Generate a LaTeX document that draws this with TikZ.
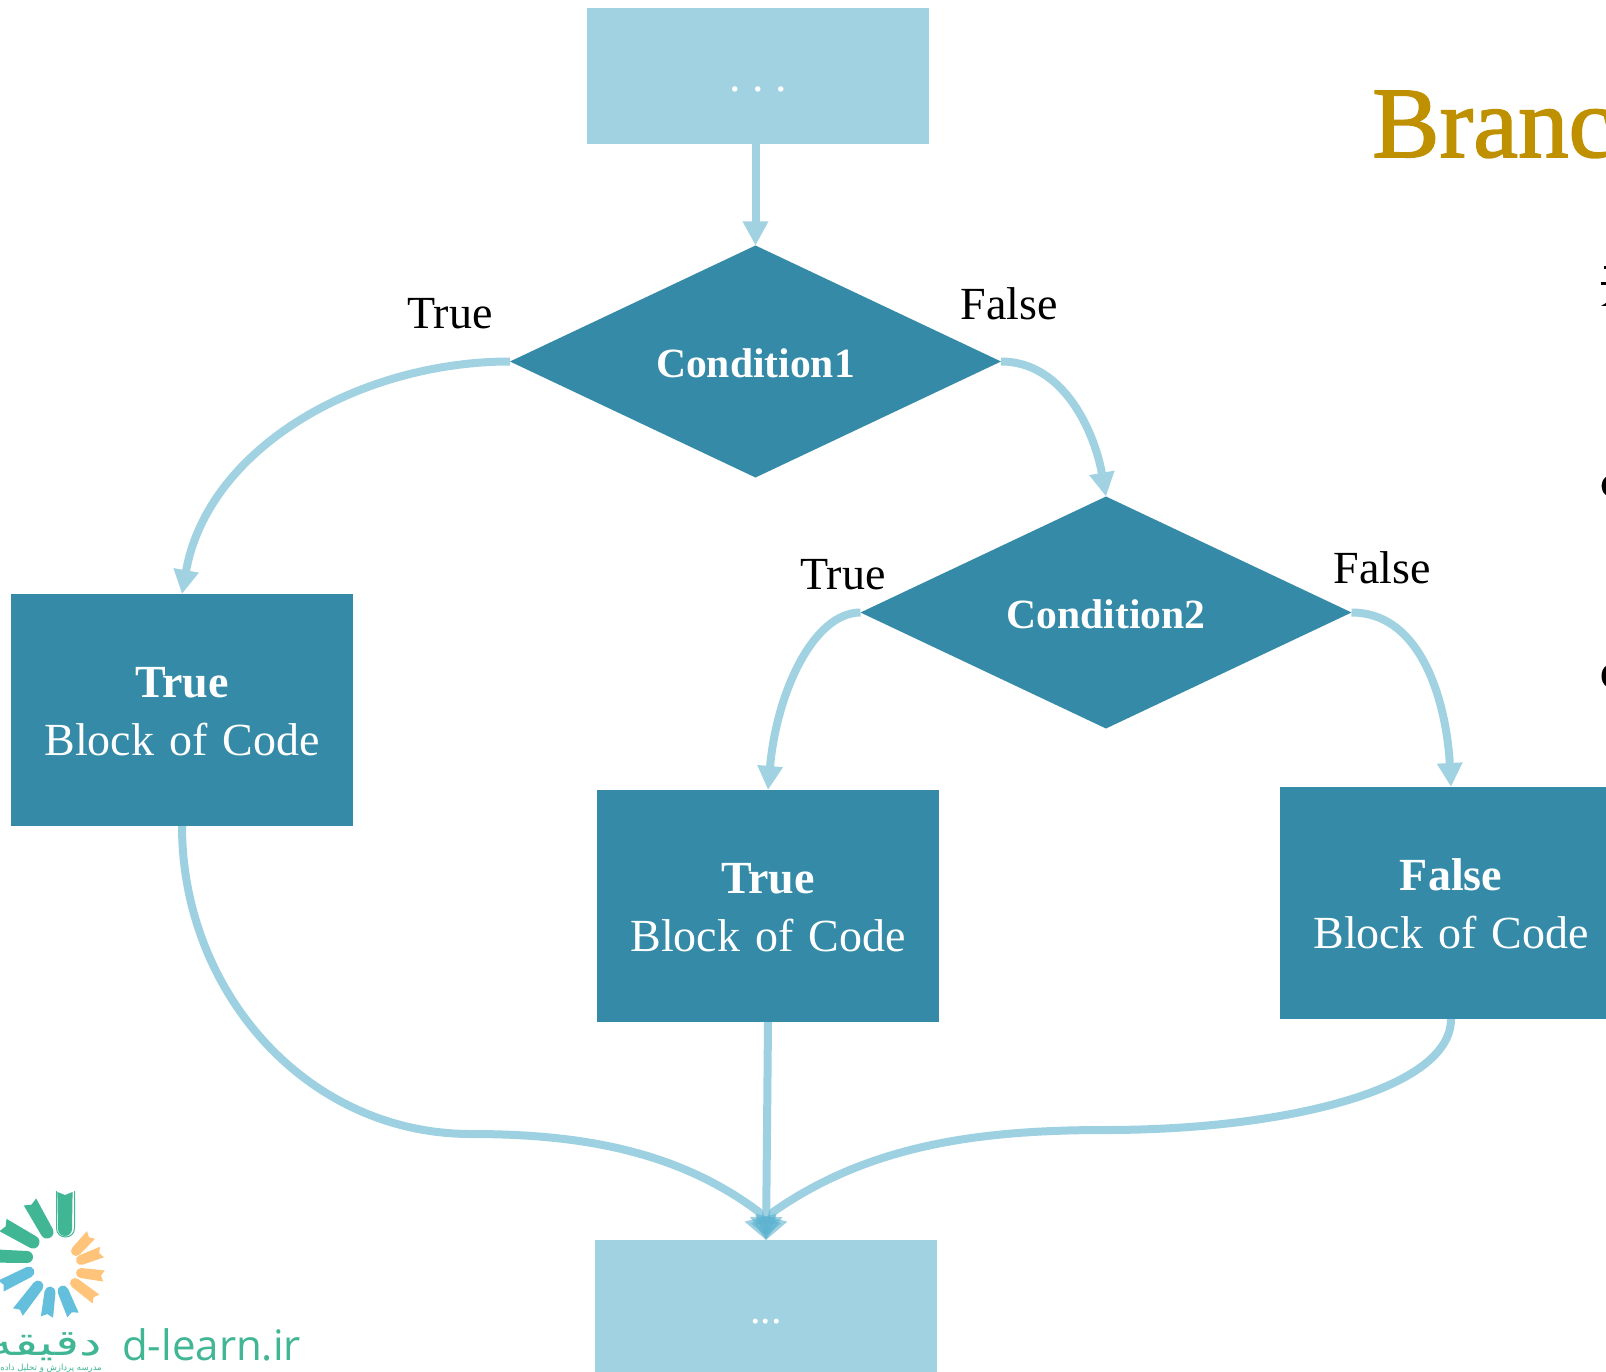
\documentclass[tikz,border=0pt]{standalone}
\usepackage{fontspec}
\usetikzlibrary{shapes.geometric,arrows.meta}
\setmainfont[WordSpace=1.3]{Liberation Serif}
\newfontfamily\plainserif{Liberation Serif}
\newfontfamily\titleserif[FakeBold=1.5]{Liberation Serif}
\newfontfamily\logolatin{Open Sans}
\newfontfamily\arabicfont[Script=Arabic]{DejaVu Sans}
\TeXXeTstate=1
\definecolor{darkteal}{HTML}{348AA7}
\definecolor{lightteal}{HTML}{A0D2E1}
\definecolor{arrowblue}{HTML}{5DB3D0}
\definecolor{titlegold}{HTML}{BF9000}
\definecolor{logogreen}{HTML}{40B695}
\definecolor{logoblue}{HTML}{64BFDC}
\definecolor{logoorange}{HTML}{FFC47A}
\tikzset{
  x=1pt,y=-1pt,
  lightbox/.style={rectangle,fill=lightteal,draw=none,text=white,inner sep=0pt,outer sep=0pt,minimum width=342pt},
  codebox/.style={rectangle,fill=darkteal,draw=none,text=white,inner sep=0pt,outer sep=0pt,minimum width=342pt,minimum height=232pt,align=center,font=\fontsize{46}{58}\selectfont},
  decision/.style={diamond,aspect=2.1,fill=darkteal,draw=none,text=white,inner sep=0pt,outer sep=0pt,minimum width=491pt,minimum height=232pt,font=\fontsize{41.6}{48}\selectfont\bfseries},
  flowlabel/.style={text=black,inner sep=0pt,font=\fontsize{46}{50}\selectfont},
  flow/.style={draw=lightteal,line width=8pt,-{Triangle[length=24pt,width=24pt]}},
  flowmerge/.style={draw=arrowblue,line width=8pt,opacity=0.6,line join=round,-{Triangle[length=23pt,width=31pt]}},
}
\newcommand{\logobook}[6]{% inner x, inner y, outer x, outer y, half width, colour
  \pgfmathsetmacro{\bookang}{atan2(-(#4-(#2)),#3-(#1))}
  \pgfmathsetmacro{\booklen}{veclen(#3-(#1),#4-(#2))}
  \begin{scope}[shift={(#1,#2)},rotate=\bookang,x=1pt,y=1pt]
    \fill[#6] (0,-#5) -- (\booklen,-#5-0.6) -- (\booklen-3,0) -- (\booklen,#5+0.6) -- (0,#5) arc[start angle=90,end angle=270,radius=#5] -- cycle;
  \end{scope}}
\begin{document}
\begin{tikzpicture}
\useasboundingbox (0,0) rectangle (1606,1372);
\begin{scope}
\clip (0,0) rectangle (1606,1372);
\fill[white] (0,0) rectangle (1606,1372);
% title and cut-off text
\node[anchor=base west,inner sep=0pt,text=titlegold,font=\titleserif\fontsize{101}{110}\selectfont] (title) at (1372,157) {Branc};
\fill[black] (1606,477) .. controls (1600,481) and (1600,491) .. (1606,495) -- cycle;
\fill[black] (1606,666) .. controls (1600,670) and (1600,682) .. (1606,686) -- cycle;
\fill[black] (1604,266) rectangle (1606,269);
\fill[black] (1601,282) rectangle (1606,285);
\fill[black] (1601,306) -- (1606,303) -- (1606,306) -- cycle;
% flow nodes
\node[lightbox,minimum height=136pt] (start) at (758,76) {\plainserif\frenchspacing\fontsize{46}{50}\selectfont\raisebox{-16pt}[0pt][0pt]{. . .}};
\node[decision] (c1) at (755.5,361.5) {\raisebox{-15.5pt}[0pt][0pt]{Condition1}};
\node[decision] (c2) at (1106,612.5) {\raisebox{-15.5pt}[0pt][0pt]{Condition2}};
\node[codebox] (bl) at (182,710) {\rule{0pt}{33pt}\textbf{True}\\Block of Code};
\node[codebox] (bm) at (768,906) {\rule{0pt}{33pt}\textbf{True}\\Block of Code};
\node[codebox] (br) at (1451,903) {\rule{0pt}{33pt}\textbf{False}\\Block of Code};
\node[lightbox,minimum height=136pt] (end) at (766,1308) {\plainserif\fontsize{42}{50}\selectfont\raisebox{-15pt}[0pt][0pt]{...}};
\node[flowlabel] (t1) at (450,314) {True};
\node[flowlabel] (f1) at (1009,304) {False};
\node[flowlabel] (t2) at (843,575) {True};
\node[flowlabel] (f2) at (1382,568) {False};
\coordinate (j1) at (471,1134);
\coordinate (j2) at (1106,1130);
\coordinate (m1) at (759,1212);
\coordinate (m2) at (773,1212);
% connectors
\draw[flow] (start.south -| c1.north) -- (c1.north);
\draw[flow] (c1.west) to[out=180,in=80,looseness=0.95] (bl.north);
\draw[flow] (c1.east) to[out=0,in=100,looseness=0.95] (c2.north);
\draw[flow] (c2.west) to[out=180,in=85,out looseness=0.6,in looseness=1.25] (bm.north);
\draw[flow] (c2.east) to[out=0,in=93,looseness=0.95] (br.north);
\draw[flowmerge] (bl.south) to[out=-90,in=180,looseness=1] (j1) to[out=0,in=143,looseness=0.9] (m1) -- (end.north);
\draw[flowmerge] (bm.south) -- (end.north);
\draw[flowmerge] (br.south) to[out=-90,in=0,out looseness=0.5,in looseness=1.25] (j2) to[out=180,in=35,looseness=0.9] (m2) -- (end.north);
% logo
\draw[logogreen,line width=1pt] (56.5,1191) -- (56.5,1228) .. controls (56.5,1240) and (74.5,1240) .. (74.5,1228) -- (74.5,1191);
\logobook{65}{1229}{65}{1192}{7}{logogreen}
\logobook{47}{1232}{30}{1202}{6.5}{logogreen}
\logobook{33}{1242}{3}{1225}{6.5}{logogreen}
\logobook{27}{1257}{-5}{1256}{6}{logogreen}
\logobook{29}{1272}{1}{1286}{5.5}{logoblue}
\logobook{38}{1286}{18}{1312}{5.5}{logoblue}
\logobook{50}{1292}{47}{1317}{5.5}{logoblue}
\logobook{63}{1291}{73}{1315}{5.5}{logoblue}
\logobook{75}{1283}{96}{1299}{5}{logoorange}
\logobook{81}{1273}{104}{1276}{5}{logoorange}
\logobook{81}{1260}{102}{1252}{5}{logoorange}
\logobook{76}{1251}{91}{1235}{5}{logoorange}
\node[anchor=base west,inner sep=0pt,text=logogreen,font=\logolatin\fontsize{42}{46}\selectfont] (site) at (122,1360) {d-learn.ir};
\node[anchor=base east,inner sep=0pt,text=logogreen,xscale=1.4,font=\fontsize{36}{40}\selectfont] (logoname) at (102,1355) {\arabicfont\beginR دقیقه\endR};
\node[anchor=base east,inner sep=0pt,text=logogreen,font=\fontsize{8.5}{9}\selectfont] (logotag) at (102,1370) {\arabicfont\beginR مدرسه پردازش و تحلیل داده\endR};
\end{scope}
\end{tikzpicture}
\end{document}
